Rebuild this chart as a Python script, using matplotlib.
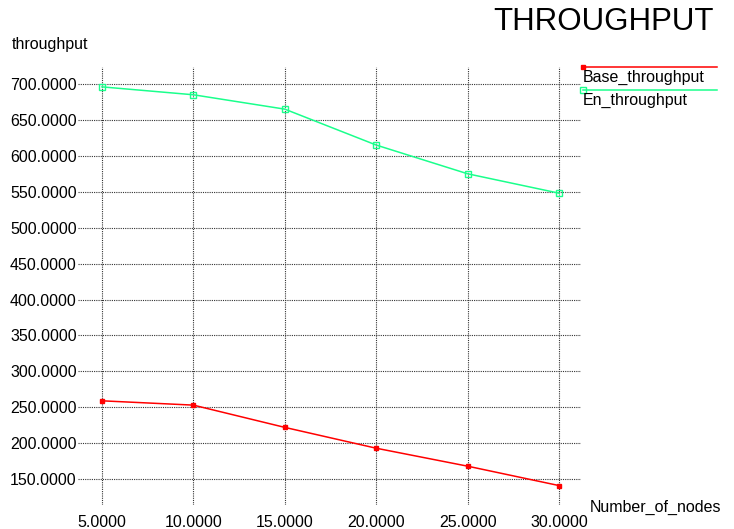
import matplotlib
matplotlib.use("Agg")
import matplotlib.pyplot as plt
from matplotlib.lines import Line2D

plt.rcParams['font.family'] = ['Liberation Sans', 'DejaVu Sans']

nodes = [5, 10, 15, 20, 25, 30]
base_throughput = [259, 253, 222, 193, 168, 141]
en_throughput = [696, 685, 665, 615, 575, 548]
yticks = [150, 200, 250, 300, 350, 400, 450, 500, 550, 600, 650, 700]

red = '#ff0000'
green = '#1aff8c'

fig = plt.figure(figsize=(7.34, 5.29), dpi=100)
ax = fig.add_axes([0.1063, 0.0454, 0.6853, 0.828])

ax.plot(nodes, base_throughput, color=red, lw=1.1, marker='s', ms=2.5,
        mfc=red, mec=red)
ax.plot(nodes, en_throughput, color=green, lw=1.1, marker='s', ms=4.5,
        mfc='none', mec=green, mew=1.0)

ax.set_xlim(3.69, 31.2)
ax.set_ylim(114, 723.7)
ax.set_xticks(nodes)
ax.set_yticks(yticks)
ax.set_xticklabels(['%.4f' % v for v in nodes])
ax.set_yticklabels(['%.4f' % v for v in yticks])
ax.tick_params(length=0, labelsize=11.5, colors='black')
ax.tick_params(axis='y', pad=1)
ax.tick_params(axis='x', pad=7)
ax.grid(True, color='#333333', linestyle=(0, (1, 1)), linewidth=0.8)
for s in ax.spines.values():
    s.set_visible(False)

fig.text(493 / 734, 1 - 22 / 529, 'THROUGHPUT', fontsize=22.5, va='center', ha='left')
fig.text(12 / 734, 1 - 45 / 529, 'throughput', fontsize=11.5, va='center', ha='left')
fig.text(590 / 734, 1 - 507 / 529, 'Number_of_nodes', fontsize=11.5, va='center', ha='left')

# legend, drawn the xgraph way
x0, x1 = 583 / 734, 717 / 734
for y_line, y_text, col, label, mfc, ms in [
        (67, 77, red, 'Base_throughput', red, 2.5),
        (90, 100, green, 'En_throughput', 'none', 4.5)]:
    fig.add_artist(Line2D([x0, x1], [1 - y_line / 529] * 2, color=col, lw=1.1,
                          transform=fig.transFigure))
    fig.add_artist(Line2D([x0], [1 - y_line / 529], color=col, marker='s', ms=ms,
                          mfc=mfc, mec=col, mew=1.0, transform=fig.transFigure))
    fig.text(x0, 1 - y_text / 529, label, fontsize=11.5, va='center', ha='left')

fig.savefig('out.png', dpi=100)
